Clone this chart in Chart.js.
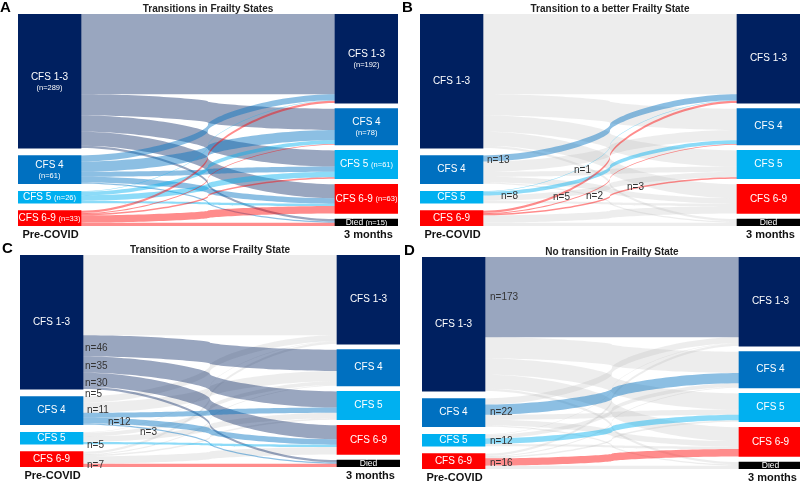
<!DOCTYPE html>
<html>
<head>
<meta charset="utf-8">
<script src="https://cdn.jsdelivr.net/npm/chart.js@4.4.1/dist/chart.umd.min.js"></script>
<style>
  html, body { margin: 0; padding: 0; background: #fff; overflow: hidden; }
  #wrap { position: relative; width: 800px; height: 483px; overflow: hidden; }
  #wrap canvas { position: absolute; }
</style>
</head>
<body>
<div id="wrap">
  <canvas id="panelA" width="400" height="240" style="left:0px;top:0px"></canvas>
  <canvas id="panelB" width="400" height="240" style="left:402px;top:0px"></canvas>
  <canvas id="panelC" width="400" height="240" style="left:2px;top:241px"></canvas>
  <canvas id="panelD" width="400" height="240" style="left:404px;top:243px"></canvas>
</div>
<script>
const stateLabels = ['CFS 1-3', 'CFS 4', 'CFS 5', 'CFS 6-9']
const outcomeLabels = ['CFS 1-3', 'CFS 4', 'CFS 5', 'CFS 6-9', 'Died']

// patients going from each pre-COVID state to each 3 month outcome
const from13 = [173, 46, 35, 30, 5]
const from4 = [13, 22, 11, 12, 3]
const from5 = [1, 8, 12, 5, 0]
const from69 = [5, 2, 3, 16, 7]

const stateColors = ['#002060', '#0070C0', '#00B0F0', '#FF0000', '#000000']
const panelTitles = [
    'Transitions in Frailty States',
    'Transition to a better Frailty State',
    'Transition to a worse Frailty State',
    'No transition in Frailty State',
]
const panelLetters = ['A', 'B', 'C', 'D']

const FONT = '"Liberation Sans", Arial, sans-serif'
const NODE_W = 63
const SPAN = 380
const GAP_R = 12

const flows = [from13, from4, from5, from69]
const sum = arr => arr.reduce((a, b) => a + b, 0)
const leftTotals = flows.map(sum)
const rightTotals = outcomeLabels.map((_, j) => sum(flows.map(r => r[j])))
const TOTAL = sum(rightTotals) + GAP_R * (outcomeLabels.length - 1)
const GAP_L = (TOTAL - sum(leftTotals)) / (stateLabels.length - 1)

function stackStarts(totals, gap) {
    let acc = 0
    return totals.map(t => {
        const s = acc
        acc += t + gap
        return s
    })
}
const leftStart = stackStarts(leftTotals, GAP_L)
const rightStart = stackStarts(rightTotals, GAP_R)

// [source, target, dx, dy] of the n= labels
const panels = {
    panelA: { idx: 0, mode: 'all', labels: [] },
    panelB: { idx: 1, mode: 'better', labels: [[1, 0, 0, 1.5], [2, 1, 14, 2.5], [2, 0, 87, -21], [3, 0, 66, -15], [3, 1, 99, -17], [3, 2, 140, -27]] },
    panelC: { idx: 2, mode: 'worse', labels: [[0, 1, -2, 2], [0, 2, -2, 2], [0, 3, -2, 3], [0, 4, -2, 6], [1, 2, 0, -5], [1, 3, 21, 2], [1, 4, 53, 8], [2, 3, 0, 2], [3, 4, 0, 0]] },
    panelD: { idx: 3, mode: 'same', labels: [[0, 0, 1, 0.5], [1, 1, 1, 3], [2, 2, 1, 0], [3, 3, 1, 1]] },
}

function rgba(hex, a) {
    const n = parseInt(hex.slice(1), 16)
    return `rgba(${n >> 16},${(n >> 8) & 255},${n & 255},${a})`
}

function flowBand(i, j) {
    let s = leftStart[i]
    for (let k = 0; k < j; k++) s += flows[i][k]
    let t = rightStart[j]
    for (let k = 0; k < i; k++) t += flows[k][j]
    return { s, t, v: flows[i][j] }
}

function isShown(mode, i, j) {
    if (mode === 'all') return true
    if (mode === 'better') return j < i
    if (mode === 'worse') return j > i
    return i === j
}

// two half curves meeting steeply in the middle
function edge(ctx, xa, ya, xb, yb) {
    const xm = (xa + xb) / 2
    const ym = (ya + yb) / 2
    const h = (xb - xa) / 2
    ctx.bezierCurveTo(xa + 0.5 * h, ya, xm, ya + 0.75 * (ym - ya), xm, ym)
    ctx.bezierCurveTo(xm, yb - 0.75 * (yb - ym), xb - 0.5 * h, yb, xb, yb)
}

function drawRibbon(ctx, x0, x1, s0, s1, t0, t1, color) {
    ctx.beginPath()
    ctx.moveTo(x0, s0)
    edge(ctx, x0, s0, x1, t0)
    ctx.lineTo(x1, t1)
    edge(ctx, x1, t1, x0, s1)
    ctx.closePath()
    ctx.fillStyle = color
    ctx.fill()
}

function nodeText(ctx, cx, cy, name, n, style) {
    ctx.fillStyle = '#fff'
    ctx.textBaseline = 'middle'
    const mainSize = name === 'Died' ? 8.5 : 10
    if (style === 'two') {
        ctx.textAlign = 'center'
        ctx.font = `${mainSize}px ${FONT}`
        ctx.fillText(name, cx, cy - 4)
        ctx.font = `7.5px ${FONT}`
        ctx.fillText(`(n=${n})`, cx, cy + 6.5)
    } else if (style === 'one') {
        ctx.textAlign = 'left'
        ctx.font = `${mainSize}px ${FONT}`
        const w1 = ctx.measureText(name + ' ').width
        ctx.font = `7.5px ${FONT}`
        const w2 = ctx.measureText(`(n=${n})`).width
        const left = cx - (w1 + w2) / 2
        ctx.font = `${mainSize}px ${FONT}`
        ctx.fillText(name, left, cy)
        ctx.font = `7.5px ${FONT}`
        ctx.fillText(`(n=${n})`, left + w1, cy + 0.5)
    } else {
        ctx.textAlign = 'center'
        ctx.font = `${mainSize}px ${FONT}`
        ctx.fillText(name, cx, cy)
    }
}

const sankeyPlugin = {
    id: 'sankey',
    beforeDatasetsDraw(chart) {
        const panel = panels[chart.canvas.id]
        const { ctx, scales: { x, y } } = chart
        const x0 = x.getPixelForValue(NODE_W)
        const x1 = x.getPixelForValue(SPAN - NODE_W)
        ctx.save()
        // faded flows first, highlighted ones on top
        for (const pass of [false, true]) {
            flows.forEach((row, i) => {
                row.forEach((v, j) => {
                    if (!v) return
                    const shown = isShown(panel.mode, i, j)
                    if (shown !== pass) return
                    const b = flowBand(i, j)
                    const color = shown ? rgba(stateColors[i], i === 0 ? 0.4 : 0.45) : 'rgba(175,175,175,0.22)'
                    drawRibbon(ctx, x0, x1,
                        y.getPixelForValue(b.s), y.getPixelForValue(b.s + v),
                        y.getPixelForValue(b.t), y.getPixelForValue(b.t + v), color)
                })
            })
        }
        ctx.restore()
    },
    afterDatasetsDraw(chart) {
        const panel = panels[chart.canvas.id]
        const { ctx, scales: { x, y } } = chart
        ctx.save()
        const full = panel.mode === 'all'
        const lx = x.getPixelForValue(NODE_W / 2)
        const rx = x.getPixelForValue(SPAN - NODE_W / 2)
        stateLabels.forEach((name, i) => {
            const cy = y.getPixelForValue(leftStart[i] + leftTotals[i] / 2)
            nodeText(ctx, lx, cy, name, leftTotals[i], full ? (i < 2 ? 'two' : 'one') : 'plain')
        })
        outcomeLabels.forEach((name, j) => {
            const cy = y.getPixelForValue(rightStart[j] + rightTotals[j] / 2)
            nodeText(ctx, rx, cy, name, rightTotals[j], full ? (j < 2 ? 'two' : 'one') : 'plain')
        })

        ctx.fillStyle = '#333'
        ctx.font = `10px ${FONT}`
        ctx.textAlign = 'left'
        ctx.textBaseline = 'middle'
        panel.labels.forEach(([i, j, dx, dy]) => {
            const b = flowBand(i, j)
            const px = x.getPixelForValue(NODE_W) + 4 + dx
            const py = y.getPixelForValue(b.s + b.v / 2) + dy
            ctx.fillText(`n=${b.v}`, px, py)
        })
        ctx.restore()
    },
    afterDraw(chart) {
        const panel = panels[chart.canvas.id]
        const { ctx, chartArea, scales: { x } } = chart
        ctx.save()
        ctx.fillStyle = '#000'
        ctx.textBaseline = 'alphabetic'
        ctx.textAlign = 'left'
        ctx.font = `bold 15px ${FONT}`
        ctx.fillText(panelLetters[panel.idx], 0, 12)

        ctx.fillStyle = '#222'
        ctx.textAlign = 'center'
        ctx.font = `bold 10px ${FONT}`
        ctx.fillText(panelTitles[panel.idx], (chartArea.left + chartArea.right) / 2, 12.3)

        ctx.fillStyle = '#111'
        ctx.font = `bold 11px ${FONT}`
        ctx.fillText('Pre-COVID', x.getPixelForValue(NODE_W / 2) + 1, chartArea.bottom + 12)
        ctx.fillText('3 months', x.getPixelForValue(SPAN - NODE_W / 2) + 2, chartArea.bottom + 12)
        ctx.restore()
    },
}

function makePanel(id) {
    const leftBars = stateLabels.map((_, i) => ({ x: NODE_W / 2, y: [leftStart[i], leftStart[i] + leftTotals[i]] }))
    const rightBars = outcomeLabels.map((_, j) => ({ x: SPAN - NODE_W / 2, y: [rightStart[j], rightStart[j] + rightTotals[j]] }))

    return new Chart(document.getElementById(id), {
        type: 'bar',
        data: {
            datasets: [{
                label: 'Pre-COVID',
                data: leftBars,
                backgroundColor: stateColors.slice(0, stateLabels.length),
                barThickness: NODE_W,
                grouped: false,
                borderWidth: 0,
            }, {
                label: '3 months',
                data: rightBars,
                backgroundColor: stateColors,
                barThickness: NODE_W,
                grouped: false,
                borderWidth: 0,
            }],
        },
        options: {
            responsive: false,
            animation: false,
            events: [],
            layout: { padding: { left: 18, right: 2, top: 14, bottom: 14 } },
            plugins: {
                legend: { display: false },
                tooltip: { enabled: false },
            },
            scales: {
                x: { type: 'linear', display: false, min: 0, max: SPAN, offset: false },
                y: { type: 'linear', display: false, min: 0, max: TOTAL, reverse: true },
            },
        },
        plugins: [sankeyPlugin],
    })
}

window.onload = () => {
    Object.keys(panels).forEach(makePanel)
}
</script>
</body>
</html>
